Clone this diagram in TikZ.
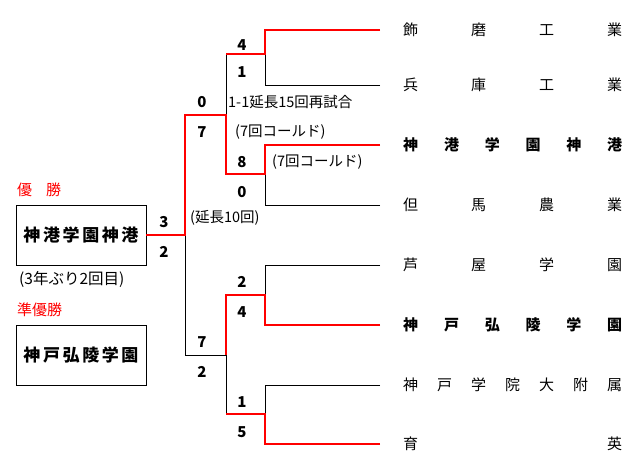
\documentclass[tikz,border=0pt]{standalone}
\usepackage{fontspec}
\setmainfont{Noto Sans CJK JP}
\tikzset{
  win/.style={red,line width=2pt},
  lose/.style={black,line width=0.8pt},
  score/.style={font=\fontsize{15}{15}\selectfont\bfseries,inner sep=0pt},
  note/.style={font=\fontsize{14.5}{14.5}\selectfont,anchor=west,inner sep=0pt},
  team/.style={font=\fontsize{15}{15}\selectfont,anchor=west,inner sep=0pt},
  result/.style={draw,line width=0.8pt,minimum width=130pt,minimum height=60pt,font=\fontsize{17}{17}\selectfont\bfseries},
}
\begin{document}
\begin{tikzpicture}[x=1pt,y=-1pt]
\useasboundingbox (0,0) rectangle (640,476);
% team names
\foreach \i/\y/\name in {1/30/{飾\hfill 磨\hfill 工\hfill 業},2/85/{兵\hfill 庫\hfill 工\hfill 業},
  3/145/{\bfseries 神\hfill 港\hfill 学\hfill 園\hfill 神\hfill 港},4/205/{但\hfill 馬\hfill 農\hfill 業},
  5/265/{芦\hfill 屋\hfill 学\hfill 園},6/325/{\bfseries 神\hfill 戸\hfill 弘\hfill 陵\hfill 学\hfill 園},
  7/385/{神\hfill 戸\hfill 学\hfill 院\hfill 大\hfill 附\hfill 属},8/444/{育\hfill 英}} {
  \coordinate (t\i) at (380,\y);
  \node[team] (n\i) at (403,\y) {\makebox[219pt]{\name}};
}
% bracket joints
\coordinate (m1) at (265,54);  \coordinate (r1) at (226,54);
\coordinate (m2) at (265,174); \coordinate (r2) at (226,174);
\coordinate (m3) at (265,295); \coordinate (r3) at (226,295);
\coordinate (m4) at (265,414); \coordinate (r4) at (226,414);
\coordinate (s1) at (226,115); \coordinate (f1) at (185,115);
\coordinate (s2) at (226,355); \coordinate (f2) at (185,355);
\coordinate (f) at (185,235);
% result boxes
\node[red,font=\fontsize{15}{15}\selectfont,anchor=west,inner sep=0pt] (wlab) at (17,190) {優\hspace{14pt}勝};
\node[result] (champ) at (81,235) {神\kern2.6pt 港\kern2.6pt 学\kern2.6pt 園\kern2.6pt 神\kern2.6pt 港};
\node[note,font=\fontsize{15.5}{15.5}\selectfont] (times) at (19,279) {(3年ぶり2回目)};
\node[red,font=\fontsize{15}{15}\selectfont,anchor=west,inner sep=0pt] (rlab) at (17,310) {準優勝};
\node[result] (runner) at (81,355) {神\kern2.6pt 戸\kern2.6pt 弘\kern2.6pt 陵\kern2.6pt 学\kern2.6pt 園};
% losers
\draw[lose] (t2) -| (m1) (r1) -- (s1);
\draw[lose] (t4) -| (m2);
\draw[lose] (t5) -| (m3);
\draw[lose] (t7) -| (m4) (r4) -- (s2);
\draw[lose] (f) -- (f2) -- (s2);
% winners
\draw[win] (t1) -| (m1) -- (r1);
\draw[win] (t3) -| (m2) -- (r2) -- (s1) -- (f1) -- (f) -- (champ.east);
\draw[win] (t6) -| (m3) -- (r3) -- (s2);
\draw[win] (t8) -| (m4) -- (r4);
% scores
\foreach \x/\y/\s [count=\k] in {242/45/4,242/72/1,202/102/0,202/132/7,242/162/8,242/192/0,164/222/3,164/252/2,
  242/282/2,242/312/4,202/342/7,202/372/2,242/402/1,242/432/5} {
  \node[score] (p\k) at (\x,\y) {\s};
}
% notes
\node[note] (e1) at (228,102) {1-1延長15回再試合};
\node[note] (e2) at (235,132) {(7回コールド)};
\node[note] (e3) at (272,162) {(7回コールド)};
\node[note] (e4) at (190,218) {(延長10回)};
\end{tikzpicture}
\end{document}
